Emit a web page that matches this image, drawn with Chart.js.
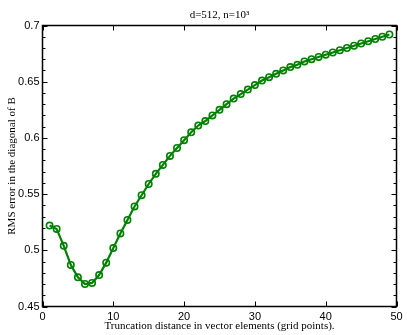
<!DOCTYPE html>
<html>
<head>
<meta charset="utf-8">
<script src="https://cdn.jsdelivr.net/npm/chart.js@4/dist/chart.umd.min.js"></script>
<style>
  html, body { margin: 0; padding: 0; background: #fff; }
  #wrap { width: 407px; height: 335px; position: relative; }
</style>
</head>
<body>
<div id="wrap"><canvas id="rmsChart"></canvas></div>
<script>
  // ---- DATA ----
  const chartTitle = 'd=512, n=10\u00B3';
  const xTitle = 'Truncation distance in vector elements (grid points).';
  const yTitle = 'RMS error in the diagonal of B';

  const truncation = [1, 2, 3, 4, 5, 6, 7, 8, 9, 10,
    11, 12, 13, 14, 15, 16, 17, 18, 19, 20,
    21, 22, 23, 24, 25, 26, 27, 28, 29, 30,
    31, 32, 33, 34, 35, 36, 37, 38, 39, 40,
    41, 42, 43, 44, 45, 46, 47, 48, 49];
  const rmsError = [0.522, 0.519, 0.504, 0.487, 0.476, 0.470, 0.471, 0.478, 0.489, 0.502,
    0.515, 0.527, 0.539, 0.549, 0.559, 0.568, 0.576, 0.584, 0.591, 0.598,
    0.605, 0.611, 0.615, 0.620, 0.625, 0.630, 0.635, 0.639, 0.643, 0.647,
    0.651, 0.654, 0.657, 0.660, 0.663, 0.665, 0.668, 0.670, 0.672, 0.674,
    0.676, 0.678, 0.680, 0.682, 0.684, 0.686, 0.688, 0.690, 0.692];

  const xTicks = [0, 10, 20, 30, 40, 50];
  const yTicks = [0.45, 0.5, 0.55, 0.6, 0.65, 0.7];
  const yMinorStep = 0.01;

  const green = '#008000';
  const serif = "'Liberation Serif', 'Times New Roman', serif";
  const sans = "'Liberation Sans', Arial, sans-serif";

  // ---- FRAME, INWARD TICKS, TITLE ----
  const boxPlugin = {
    id: 'matlabBox',
    afterDraw(chart) {
      const { ctx, chartArea: a, scales } = chart;
      const xs = scales.x, ys = scales.y;
      ctx.save();
      ctx.strokeStyle = '#000';
      ctx.lineWidth = 1;
      // ticks
      ctx.beginPath();
      xTicks.forEach(v => {
        const px = Math.round(xs.getPixelForValue(v)) + 0.5;
        ctx.moveTo(px, a.bottom); ctx.lineTo(px, a.bottom - 5);
        ctx.moveTo(px, a.top); ctx.lineTo(px, a.top + 5);
      });
      for (let i = 0; i <= 25; i++) {
        const v = 0.45 + i * yMinorStep;
        const py = Math.round(ys.getPixelForValue(v)) + 0.5;
        const len = i % 5 === 0 ? 5 : 3;
        ctx.moveTo(a.left, py); ctx.lineTo(a.left + len, py);
        ctx.moveTo(a.right, py); ctx.lineTo(a.right - len, py);
      }
      ctx.stroke();
      // frame
      ctx.lineWidth = 1.5;
      ctx.strokeRect(a.left, a.top, a.right - a.left, a.bottom - a.top);
      // title
      ctx.fillStyle = '#000';
      ctx.font = '11px ' + serif;
      ctx.textAlign = 'center';
      ctx.textBaseline = 'alphabetic';
      ctx.fillText(chartTitle, (a.left + a.right) / 2, 18);
      ctx.restore();
    }
  };

  // ---- CHART ----
  const ctx = document.getElementById('rmsChart').getContext('2d');
  const chart = new Chart(ctx, {
    type: 'line',
    data: {
      datasets: [{
        data: truncation.map((x, i) => ({ x, y: rmsError[i] })),
        borderColor: green,
        borderWidth: 2.2,
        tension: 0,
        fill: false,
        pointRadius: 3.2,
        pointStyle: 'circle',
        pointBackgroundColor: 'rgba(0,0,0,0)',
        pointBorderColor: green,
        pointBorderWidth: 1.6
      }]
    },
    options: {
      responsive: true,
      maintainAspectRatio: false,
      animation: false,
      layout: { padding: { top: 25.5, right: 10.5, left: 0, bottom: 0 } },
      plugins: {
        legend: { display: false },
        tooltip: { enabled: false },
        title: { display: false }
      },
      scales: {
        x: {
          type: 'linear',
          min: 0, max: 50,
          grid: { display: false, drawTicks: false },
          border: { display: false },
          afterBuildTicks: s => { s.ticks = xTicks.map(v => ({ value: v })); },
          afterFit: s => { s.height = 28.5; },
          ticks: { color: '#000', padding: 4, maxRotation: 0, font: { family: sans, size: 11 } },
          title: {
            display: true, text: xTitle, color: '#000',
            padding: { top: 0, bottom: 2 },
            font: { family: serif, size: 11 }
          }
        },
        y: {
          min: 0.45, max: 0.7,
          grid: { display: false, drawTicks: false },
          border: { display: false },
          afterBuildTicks: s => { s.ticks = yTicks.map(v => ({ value: v })); },
          afterFit: s => { s.width = 42.5; },
          ticks: {
            color: '#000', padding: 3,
            font: { family: sans, size: 11 },
            callback: v => String(+v.toFixed(2))
          },
          title: {
            display: true, text: yTitle, color: '#000',
            padding: { top: 6, bottom: 0 },
            font: { family: serif, size: 11 }
          }
        }
      }
    },
    plugins: [boxPlugin]
  });
</script>
</body>
</html>
